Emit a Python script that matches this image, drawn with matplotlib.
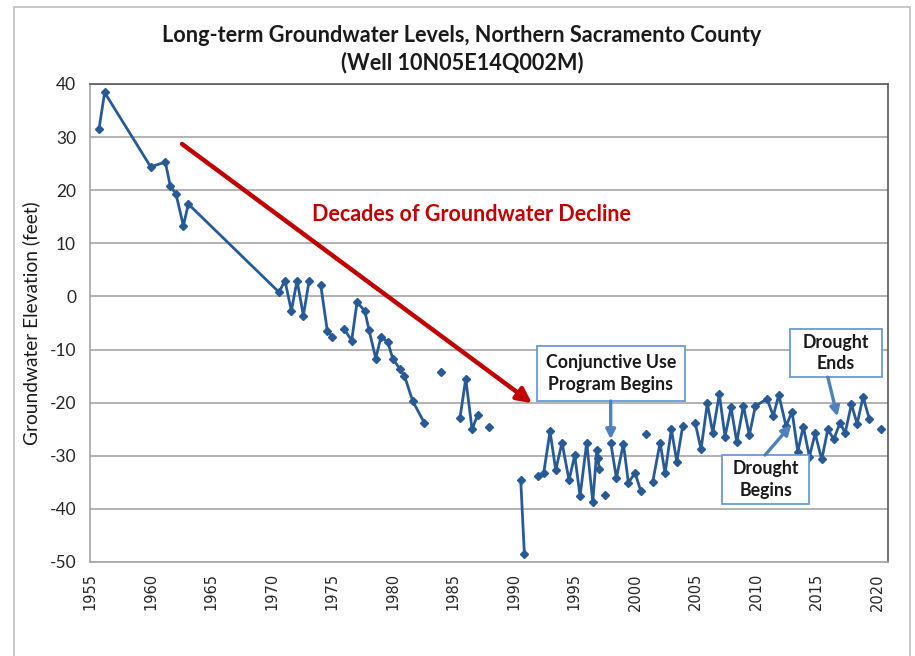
import numpy as np
import matplotlib
matplotlib.use('Agg')
from matplotlib import pyplot as plt
from matplotlib.patches import Rectangle

# well readings, NaN marks a break in the record (no line drawn across it)
years = [1955.74, 1956.21, 1960.01, 1961.22, 1961.63, 1962.10, 1962.71, 1963.12,
         1970.61, 1971.10, 1971.63, 1972.10, 1972.62, 1973.09, np.nan,
         1974.05, 1974.60, 1975.01, np.nan,
         1975.98, 1976.61, 1977.05, 1977.69, 1978.04, 1978.60, 1979.03, 1979.59,
         1980.00, 1980.60, 1980.96, 1981.65, 1982.61, np.nan,
         1983.96, np.nan,
         1985.56, 1986.03, 1986.55, 1987.02, np.nan,
         1987.93, np.nan,
         1990.57, 1990.87, np.nan,
         1992.00, 1992.47, 1992.99, 1993.46, 1993.98, 1994.56, 1995.03, 1995.47,
         1996.02, 1996.52, 1996.85, 1996.93, 1997.06, np.nan,
         1997.56, np.nan,
         1998.00, 1998.47, 1999.05, 1999.46, 2000.01, 2000.48, np.nan,
         2000.92, np.nan,
         2001.47, 2002.08, 2002.49, 2003.01, 2003.46, 2003.95, np.nan,
         2004.99, 2005.46, 2005.98, 2006.43, 2006.97, 2007.44, 2007.94, 2008.41,
         2008.96, 2009.45, 2009.95, 2010.91, 2011.43, 2011.88, 2012.48, 2012.98,
         2013.45, 2013.91, 2014.41, 2014.88, 2015.43, 2015.93, 2016.42, 2016.94,
         2017.36, 2017.88, 2018.35, 2018.84, 2019.36, np.nan,
         2020.30]
levels = [31.5, 38.4, 24.4, 25.3, 20.8, 19.3, 13.3, 17.4,
          0.8, 3.0, -2.7, 3.0, -3.6, 2.9, np.nan,
          2.2, -6.5, -7.6, np.nan,
          -6.1, -8.3, -1.1, -2.7, -6.3, -11.7, -7.6, -8.6,
          -11.7, -13.7, -14.9, -19.7, -23.8, np.nan,
          -14.3, np.nan,
          -22.8, -15.5, -25.0, -22.3, np.nan,
          -24.6, np.nan,
          -34.6, -48.4, np.nan,
          -33.9, -33.2, -25.4, -32.7, -27.5, -34.6, -29.9, -37.6,
          -27.5, -38.7, -29.0, -30.4, -32.4, np.nan,
          -37.4, np.nan,
          -27.5, -34.2, -27.7, -35.1, -33.2, -36.6, np.nan,
          -25.9, np.nan,
          -34.9, -27.5, -33.3, -25.0, -31.1, -24.3, np.nan,
          -23.9, -28.8, -20.1, -25.7, -18.4, -26.4, -20.9, -27.4,
          -20.6, -26.1, -20.6, -19.3, -22.5, -18.5, -24.4, -21.7,
          -29.2, -24.5, -30.2, -25.8, -30.7, -25.0, -26.9, -23.8,
          -25.7, -20.3, -24.0, -18.9, -23.1, np.nan,
          -25.0]

xticks = list(range(1955, 2021, 5))
yticks = list(range(-50, 41, 10))

title = 'Long-term Groundwater Levels, Northern Sacramento County\n(Well 10N05E14Q002M)'
ylabel = 'Groundwater Elevation (feet)'

FONT = 'Lato'
BLUE_LINE = '#275A96'
CALLOUT = '#4F81BD'
RED = '#C00000'

fig = plt.figure(figsize=(9.15, 6.56), dpi=100)
ax = fig.add_axes([90/915, 1 - 562/656, (888 - 90)/915, (562 - 84)/656])

# outer chart frame
fig.patches.append(Rectangle((14/915, -0.02), (910 - 14)/915, 1.02 - 7/656,
                             transform=fig.transFigure, fill=False,
                             ec='#BDBDBD', lw=1.2))

ax.plot(years, levels, color=BLUE_LINE, lw=2, marker='D', ms=4,
        mfc=BLUE_LINE, mec=BLUE_LINE, zorder=3)

ax.set_xlim(1955, 2020.9)
ax.set_ylim(-50, 40)
ax.set_xticks(xticks)
ax.set_xticklabels([str(t) for t in xticks], rotation=90, fontsize=10.5,
                   family='DejaVu Sans', color='#262626')
ax.set_yticks(yticks)
ax.set_yticklabels([str(t) for t in yticks], fontsize=12.5, family=FONT, color='#262626')
ax.tick_params(length=0, pad=8)
ax.tick_params(axis='y', pad=10)
ax.yaxis.grid(True, color='#A6A6A6', lw=1.2)
ax.set_axisbelow(True)
for side in ['top', 'right']:
    ax.spines[side].set_color('#595959')
for side in ['left', 'bottom']:
    ax.spines[side].set_color('#A6A6A6')
for s in ax.spines.values():
    s.set_linewidth(1.2)

ax.set_ylabel(ylabel, fontsize=13.8, family=FONT, color='#1a1a1a', labelpad=7)
fig.text(462/915, 1 - 49/656, title, ha='center', va='center', fontsize=15.6,
         fontweight='bold', family=FONT, color='#1a1a1a', linespacing=1.3)

# big red trend arrow
ax.annotate('', xy=(1991.5, -20.1), xytext=(1962.6, 28.7),
            arrowprops=dict(arrowstyle='-|>', color=RED, lw=3.2, mutation_scale=22,
                            shrinkA=0, shrinkB=0))
ax.text(1986.5, 15.4, 'Decades of Groundwater Decline', ha='center', va='center',
        fontsize=15.5, fontweight='bold', color=RED, family=FONT)

# callout boxes
boxes = [
    ((1991.89, -19.69), 12.25, 10.36, 'Conjunctive Use\nProgram Begins', (1998.0, -19.69), (1998.0, -26.9)),
    ((2012.81, -15.11), 7.58, 8.92, 'Drought\nEnds', (2015.93, -15.2), (2016.72, -22.6)),
    ((2007.17, -39.08), 7.24, 9.22, 'Drought\nBegins', (2010.75, -29.86), (2012.9, -24.2)),
]
for (x0, y0), w, h, label, a0, a1 in boxes:
    ax.add_patch(Rectangle((x0, y0), w, h, fc='white', ec='#6A9BD6', lw=1.3,
                           zorder=4, clip_on=False))
    ax.text(x0 + w/2, y0 + h/2, label, ha='center', va='center', fontsize=12.8,
            fontweight='bold', family=FONT, color='#1a1a1a', zorder=5,
            linespacing=1.3)
    ax.annotate('', xy=a1, xytext=a0,
                arrowprops=dict(arrowstyle='-|>', color=CALLOUT, lw=2.4,
                                mutation_scale=14, shrinkA=0, shrinkB=0),
                zorder=5)

plt.savefig('out.png', dpi=100)
